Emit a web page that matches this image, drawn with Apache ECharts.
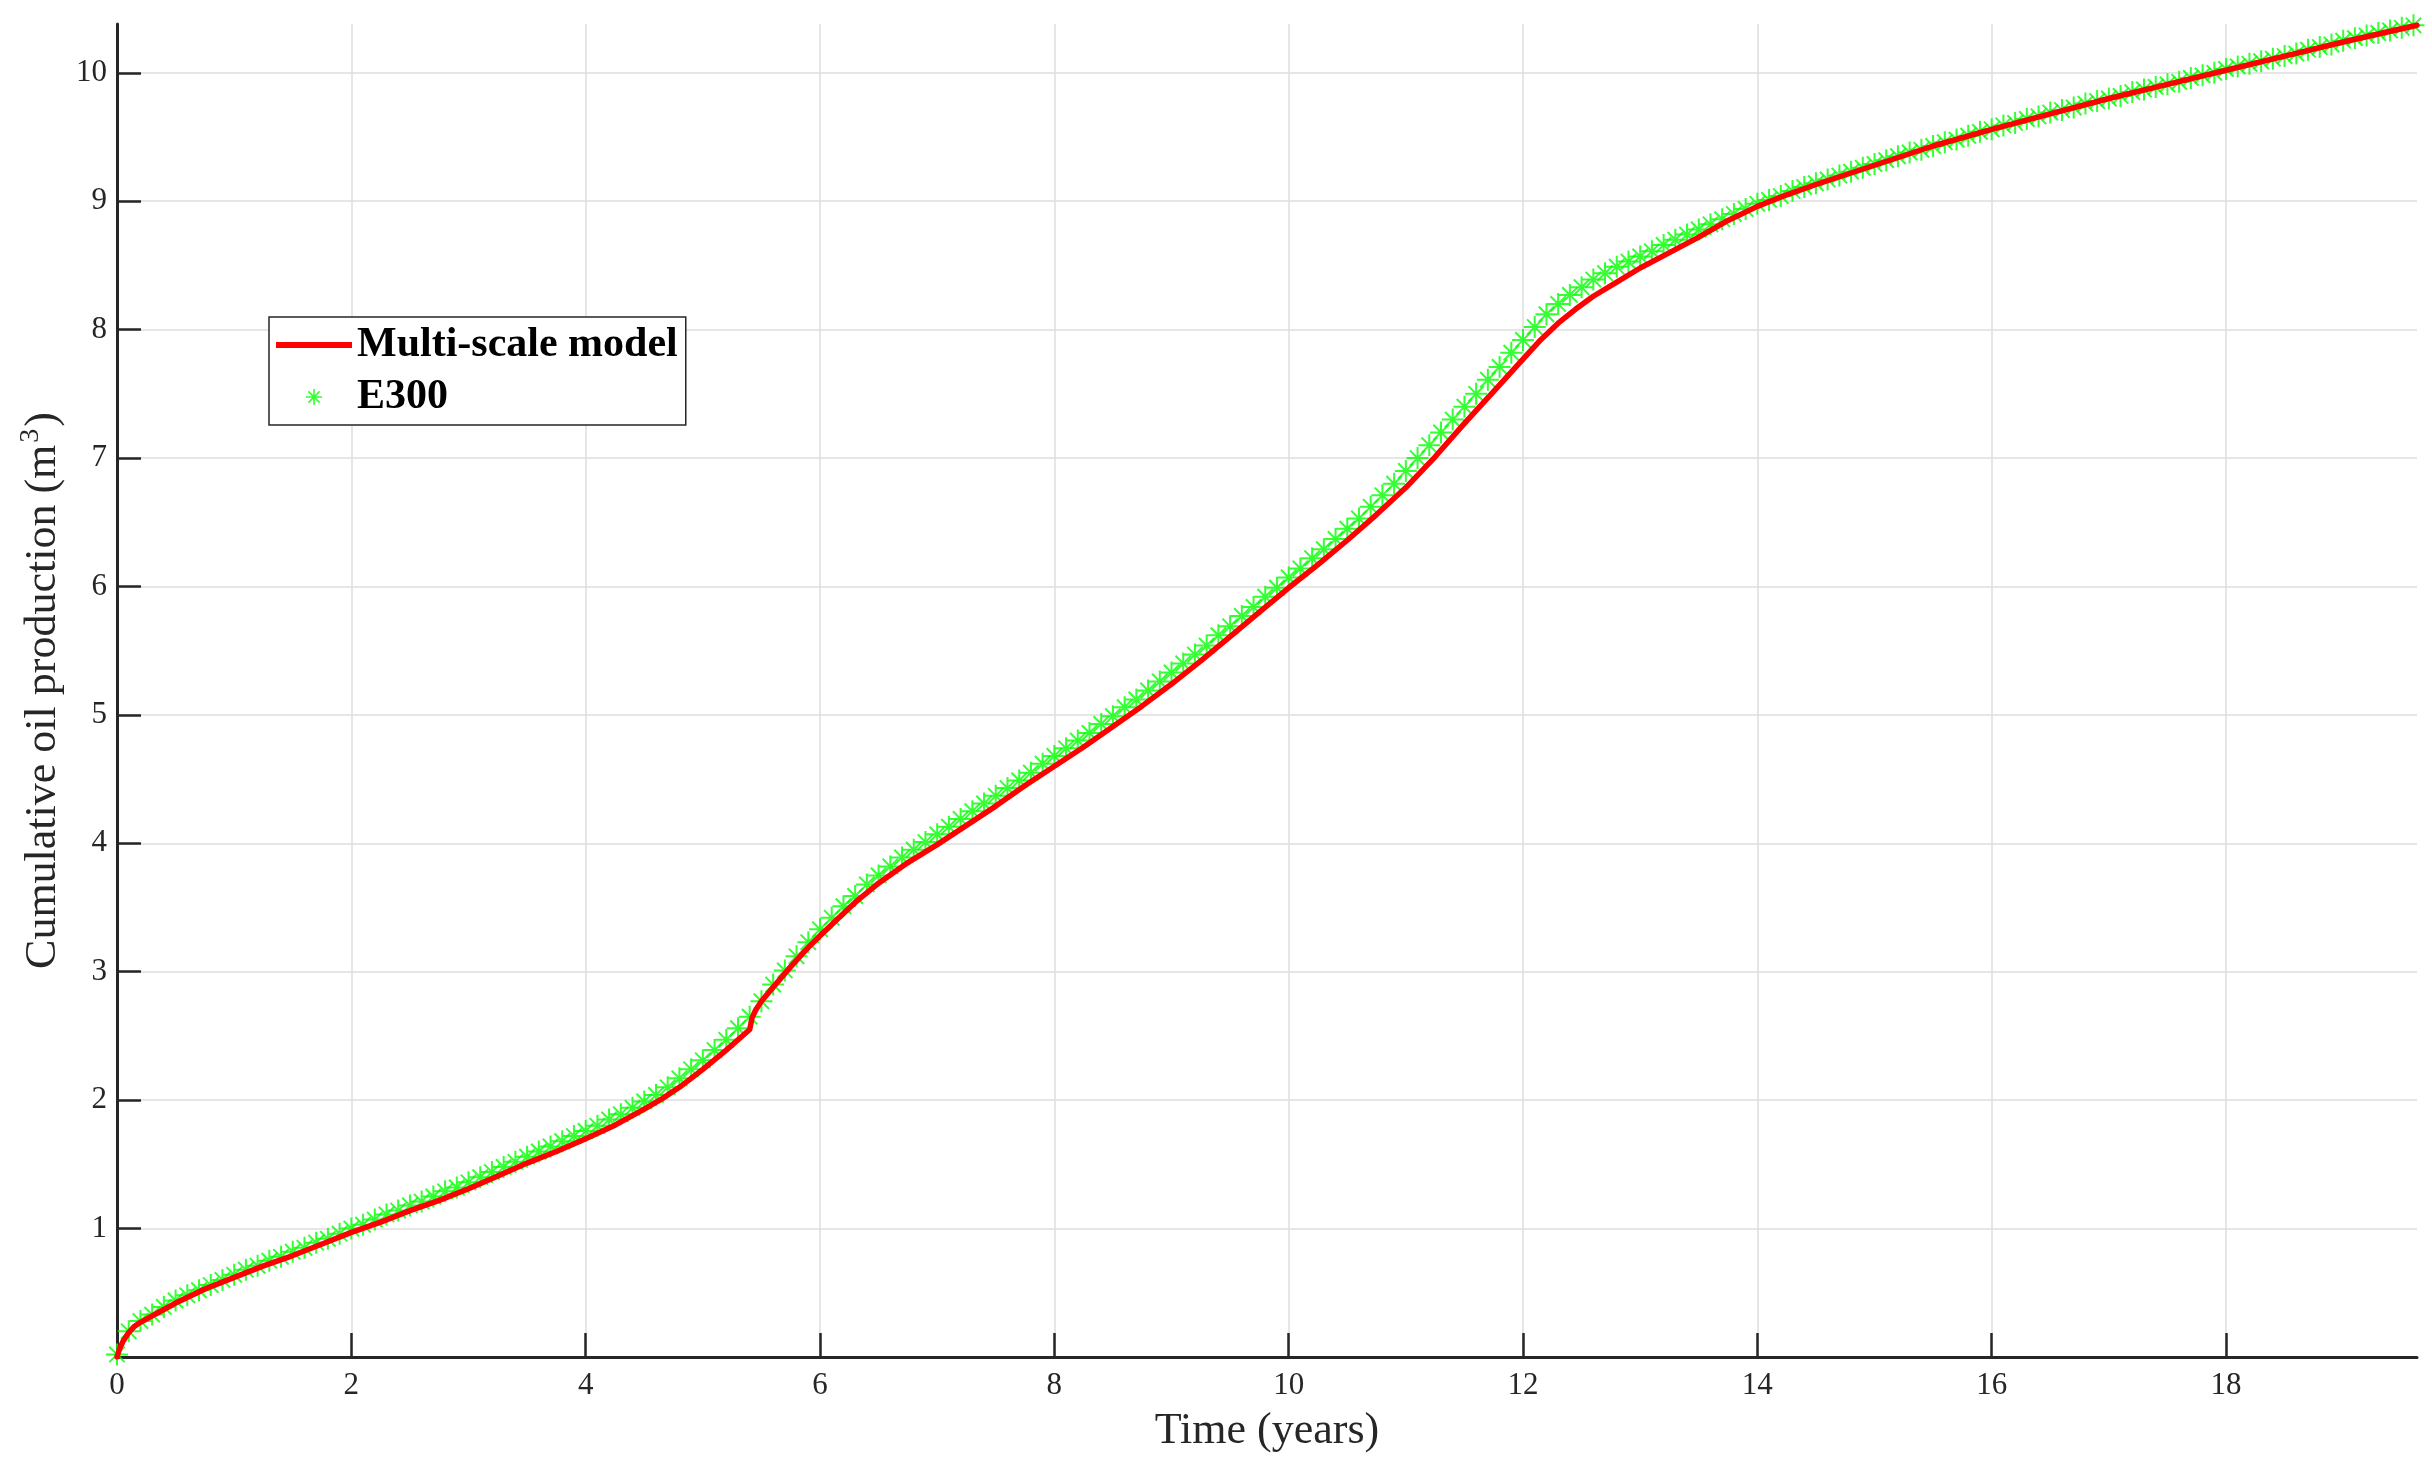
<!DOCTYPE html>
<html>
<head>
<meta charset="utf-8">
<script src="https://cdn.jsdelivr.net/npm/echarts@6/dist/echarts.min.js"></script>
<style>
html,body{margin:0;padding:0;background:#fff;}
#chart{width:2432px;height:1467px;}
</style>
</head>
<body>
<div id="chart"></div>
<script>
// Multi-scale model: [time (years), cumulative oil production]
const multiScale = [
  [0,0],[0.02,0.06],[0.05,0.12],[0.1,0.19],[0.15,0.24],[0.2,0.27],[0.3,0.32],[0.4,0.37],[0.5,0.42],[0.75,0.53],
  [1.0,0.62],[1.25,0.71],[1.5,0.79],[1.75,0.88],[2.0,0.97],[2.25,1.05],[2.5,1.14],[2.75,1.22],
  [3.0,1.31],[3.25,1.41],[3.5,1.51],[3.75,1.60],[4.0,1.70],[4.25,1.805],[4.5,1.93],[4.65,2.01],[4.8,2.10],
  [5.0,2.24],[5.2,2.39],[5.4,2.55],[5.42,2.64],[5.45,2.70],[5.5,2.77],[5.6,2.88],[5.75,3.04],[5.9,3.19],
  [6.0,3.28],[6.15,3.41],[6.3,3.54],[6.5,3.69],[6.75,3.85],[7.0,3.99],[7.25,4.14],[7.5,4.29],[7.75,4.45],
  [8.0,4.60],[8.25,4.75],[8.5,4.91],[8.75,5.07],[9.0,5.24],[9.25,5.42],[9.5,5.61],[9.75,5.80],
  [10.0,5.99],[10.25,6.17],[10.5,6.36],[10.75,6.56],[11.0,6.77],[11.25,7.01],[11.5,7.27],[11.75,7.52],
  [12.0,7.77],[12.15,7.92],[12.3,8.05],[12.45,8.16],[12.6,8.26],[12.8,8.37],[13.0,8.48],[13.25,8.60],
  [13.5,8.72],[13.75,8.85],[14.0,8.96],[14.25,9.05],[14.5,9.13],[15.0,9.28],[15.5,9.43],[16.0,9.56],
  [16.5,9.68],[17.0,9.80],[17.5,9.91],[18.0,10.02],[18.5,10.13],[19.0,10.24],[19.63,10.37]
];

// E300: [time (years), cumulative oil production]
const e300 = [
  [0.0,0.02],[0.1,0.20],[0.2,0.28],[0.3,0.33],[0.4,0.39],[0.5,0.44],[0.6,0.48],[0.7,0.52],[0.8,0.56],[0.9,0.60],
  [1.0,0.64],[1.1,0.68],[1.2,0.71],[1.3,0.75],[1.4,0.78],[1.5,0.82],[1.6,0.85],[1.7,0.89],[1.8,0.92],[1.9,0.96],
  [2.0,1.00],[2.1,1.03],[2.2,1.07],[2.3,1.11],[2.4,1.14],[2.5,1.18],[2.6,1.21],[2.7,1.25],[2.8,1.29],[2.9,1.32],
  [3.0,1.36],[3.1,1.40],[3.2,1.44],[3.3,1.48],[3.4,1.52],[3.5,1.56],[3.6,1.60],[3.7,1.64],[3.8,1.68],[3.9,1.72],
  [4.0,1.76],[4.1,1.80],[4.2,1.85],[4.3,1.89],[4.4,1.94],[4.5,1.99],[4.6,2.04],[4.7,2.10],[4.8,2.17],[4.9,2.24],
  [5.0,2.31],[5.1,2.39],[5.2,2.47],[5.3,2.56],[5.4,2.65],[5.5,2.77],[5.6,2.90],[5.7,3.01],[5.8,3.12],[5.9,3.23],
  [6.0,3.33],[6.1,3.42],[6.2,3.51],[6.3,3.59],[6.4,3.68],[6.5,3.75],[6.6,3.82],[6.7,3.89],[6.8,3.95],[6.9,4.01],
  [7.0,4.07],[7.1,4.13],[7.2,4.19],[7.3,4.25],[7.4,4.31],[7.5,4.37],[7.6,4.43],[7.7,4.49],[7.8,4.55],[7.9,4.62],
  [8.0,4.68],[8.1,4.74],[8.2,4.80],[8.3,4.86],[8.4,4.93],[8.5,4.99],[8.6,5.06],[8.7,5.12],[8.8,5.19],[8.9,5.26],
  [9.0,5.33],[9.1,5.40],[9.2,5.47],[9.3,5.54],[9.4,5.62],[9.5,5.69],[9.6,5.77],[9.7,5.84],[9.8,5.92],[9.9,5.99],
  [10.0,6.07],[10.1,6.14],[10.2,6.22],[10.3,6.29],[10.4,6.37],[10.5,6.45],[10.6,6.53],[10.7,6.62],[10.8,6.71],[10.9,6.80],
  [11.0,6.90],[11.1,7.00],[11.2,7.10],[11.3,7.20],[11.4,7.30],[11.5,7.40],[11.6,7.50],[11.7,7.61],[11.8,7.71],[11.9,7.82],
  [12.0,7.92],[12.1,8.02],[12.2,8.12],[12.3,8.20],[12.4,8.27],[12.5,8.33],[12.6,8.39],[12.7,8.44],[12.8,8.49],[12.9,8.53],
  [13.0,8.57],[13.1,8.61],[13.2,8.66],[13.3,8.70],[13.4,8.74],[13.5,8.78],[13.6,8.82],[13.7,8.86],[13.8,8.90],[13.9,8.94],
  [14.0,8.98],[14.1,9.01],[14.2,9.04],[14.3,9.08],[14.4,9.11],[14.5,9.14],[14.6,9.17],[14.7,9.20],[14.8,9.23],[14.9,9.26],
  [15.0,9.29],[15.1,9.32],[15.2,9.35],[15.3,9.38],[15.4,9.40],[15.5,9.43],[15.6,9.46],[15.7,9.48],[15.8,9.51],[15.9,9.54],
  [16.0,9.56],[16.1,9.59],[16.2,9.61],[16.3,9.64],[16.4,9.66],[16.5,9.69],[16.6,9.71],[16.7,9.73],[16.8,9.76],[16.9,9.78],
  [17.0,9.80],[17.1,9.82],[17.2,9.85],[17.3,9.87],[17.4,9.89],[17.5,9.91],[17.6,9.93],[17.7,9.96],[17.8,9.98],[17.9,10.00],
  [18.0,10.03],[18.1,10.05],[18.2,10.07],[18.3,10.09],[18.4,10.11],[18.5,10.13],[18.6,10.15],[18.7,10.18],[18.8,10.20],[18.9,10.22],
  [19.0,10.25],[19.1,10.27],[19.2,10.29],[19.3,10.31],[19.4,10.33],[19.5,10.35],[19.6,10.37]
];

const xTicks = [0, 2, 4, 6, 8, 10, 12, 14, 16, 18];
const yTicks = [1, 2, 3, 4, 5, 6, 7, 8, 9, 10];
const seriesNames = ['Multi-scale model', 'E300'];

const FONT = "'Liberation Serif', 'Times New Roman', serif";
const AXIS_COLOR = '#262626';
const GRID_COLOR = '#dedede';
const STAR = 'path://M10,0L10,20M0,10L20,10M3,3L17,17M3,17L17,3';
const LINE_ICON = 'path://M0,0L76,0L76,6L0,6Z';

const chart = echarts.init(document.getElementById('chart'), null, {renderer: 'canvas'});
chart.setOption({
  animation: false,
  backgroundColor: '#ffffff',
  grid: {left: 117, right: 15, top: 24, bottom: 110, containLabel: false, outerBoundsMode: 'none'},
  legend: {
    left: 269, top: 317, orient: 'vertical',
    backgroundColor: '#ffffff', borderColor: AXIS_COLOR, borderWidth: 1.5, borderRadius: 0,
    padding: [7, 8, 7, 7],
    itemWidth: 76, itemHeight: 16, itemGap: 10, symbolKeepAspect: true,
    textStyle: {fontFamily: FONT, fontSize: 42, fontWeight: 'bold', color: '#000', lineHeight: 42},
    data: [
      {name: seriesNames[0], icon: LINE_ICON, itemStyle: {color: '#ff0000', borderWidth: 0}},
      {name: seriesNames[1], icon: STAR, itemStyle: {borderWidth: 1.6}}
    ]
  },
  xAxis: {
    type: 'value', min: 0, max: 19.63, interval: 2,
    name: 'Time (years)', nameLocation: 'middle', nameGap: 52,
    nameTextStyle: {fontFamily: FONT, fontSize: 44, color: AXIS_COLOR},
    axisLine: {show: true, onZero: false, lineStyle: {color: AXIS_COLOR, width: 3}},
    axisTick: {show: true, inside: true, length: 24, customValues: xTicks, lineStyle: {color: AXIS_COLOR, width: 2.5}},
    axisLabel: {customValues: xTicks, fontFamily: FONT, fontSize: 31, color: AXIS_COLOR, margin: 13},
    splitLine: {show: true, customValues: xTicks, lineStyle: {color: GRID_COLOR, width: 1.5}}
  },
  yAxis: {
    type: 'value', min: 0, max: 10.38, interval: 1,
    name: '{t|Cumulative oil production (m}{sup|3}{t|)}', nameLocation: 'middle', nameGap: 46,
    nameTextStyle: {
      fontFamily: FONT, fontSize: 44, color: AXIS_COLOR,
      rich: {
        t: {fontFamily: FONT, fontSize: 44, color: AXIS_COLOR},
        sup: {fontFamily: FONT, fontSize: 28, color: AXIS_COLOR, padding: [0, 2, 24, 2]}
      }
    },
    axisLine: {show: true, onZero: false, lineStyle: {color: AXIS_COLOR, width: 3}},
    axisTick: {show: true, inside: true, length: 24, customValues: yTicks, lineStyle: {color: AXIS_COLOR, width: 2.5}},
    axisLabel: {customValues: yTicks, fontFamily: FONT, fontSize: 31, color: AXIS_COLOR, margin: 10},
    splitLine: {show: true, customValues: yTicks, lineStyle: {color: GRID_COLOR, width: 1.5}}
  },
  series: [
    {
      name: seriesNames[0], type: 'line', data: multiScale,
      showSymbol: false, symbol: 'none', smooth: false,
      lineStyle: {color: '#ff0000', width: 5.5, join: 'round', cap: 'round'},
      itemStyle: {color: '#ff0000'}
    },
    {
      name: seriesNames[1], type: 'scatter', data: e300,
      symbol: STAR, symbolSize: 22,
      itemStyle: {color: '#00ff00', borderColor: '#00ff00', borderWidth: 2}
    }
  ]
});
</script>
</body>
</html>
